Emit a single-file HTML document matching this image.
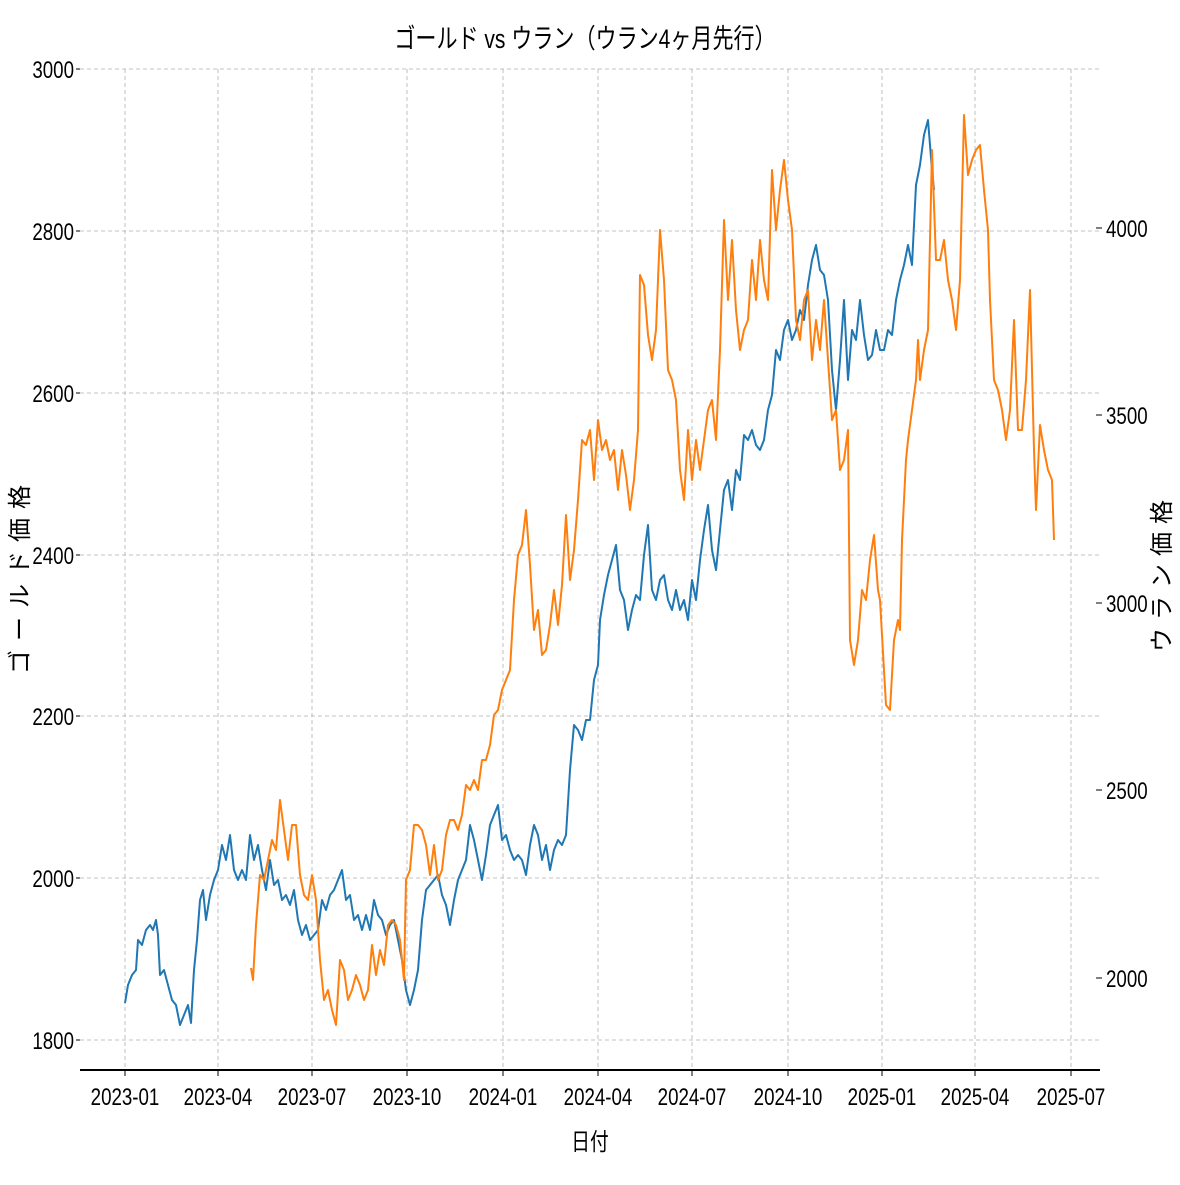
<!DOCTYPE html>
<html><head><meta charset="utf-8"><style>
body{margin:0;background:#fff}
text{font-family:"Liberation Sans","Noto Sans CJK JP",sans-serif;fill:#000}
</style></head><body>
<svg width="1180" height="1180" viewBox="0 0 1180 1180" xmlns="http://www.w3.org/2000/svg">
<rect width="1180" height="1180" fill="#fff"/>
<g stroke="#b0b0b0" stroke-dasharray="4,3" stroke-width="0.8">
<line x1="80" x2="1100" y1="69" y2="69"/><line x1="80" x2="1100" y1="231" y2="231"/><line x1="80" x2="1100" y1="393" y2="393"/><line x1="80" x2="1100" y1="555" y2="555"/><line x1="80" x2="1100" y1="716" y2="716"/><line x1="80" x2="1100" y1="878" y2="878"/><line x1="80" x2="1100" y1="1040" y2="1040"/>
<line y1="69" y2="1070" x1="125" x2="125"/><line y1="69" y2="1070" x1="218" x2="218"/><line y1="69" y2="1070" x1="312" x2="312"/><line y1="69" y2="1070" x1="407" x2="407"/><line y1="69" y2="1070" x1="503" x2="503"/><line y1="69" y2="1070" x1="598" x2="598"/><line y1="69" y2="1070" x1="692" x2="692"/><line y1="69" y2="1070" x1="788" x2="788"/><line y1="69" y2="1070" x1="882" x2="882"/><line y1="69" y2="1070" x1="975" x2="975"/><line y1="69" y2="1070" x1="1071" x2="1071"/>
</g>
<line x1="80" x2="1100" y1="1070" y2="1070" stroke="#000" stroke-width="2"/>
<g stroke="#000" stroke-width="1">
<line x1="76" x2="80" y1="69" y2="69"/><line x1="76" x2="80" y1="231" y2="231"/><line x1="76" x2="80" y1="393" y2="393"/><line x1="76" x2="80" y1="555" y2="555"/><line x1="76" x2="80" y1="716" y2="716"/><line x1="76" x2="80" y1="878" y2="878"/><line x1="76" x2="80" y1="1040" y2="1040"/>
<line x1="1096" x2="1102" y1="228" y2="228"/><line x1="1096" x2="1102" y1="415" y2="415"/><line x1="1096" x2="1102" y1="603" y2="603"/><line x1="1096" x2="1102" y1="790" y2="790"/><line x1="1096" x2="1102" y1="978" y2="978"/>
<line y1="1070" y2="1076" x1="125" x2="125"/><line y1="1070" y2="1076" x1="218" x2="218"/><line y1="1070" y2="1076" x1="312" x2="312"/><line y1="1070" y2="1076" x1="407" x2="407"/><line y1="1070" y2="1076" x1="503" x2="503"/><line y1="1070" y2="1076" x1="598" x2="598"/><line y1="1070" y2="1076" x1="692" x2="692"/><line y1="1070" y2="1076" x1="788" x2="788"/><line y1="1070" y2="1076" x1="882" x2="882"/><line y1="1070" y2="1076" x1="975" x2="975"/><line y1="1070" y2="1076" x1="1071" x2="1071"/>
</g>
<polyline fill="none" stroke="#1f77b4" stroke-width="2" stroke-linejoin="round" points="125,1003 128,985 132,975 136,970 138,940 142,945 146,930 150,925 153,930 156,920 158,935 160,975 164,970 168,985 172,1000 176,1005 180,1025 184,1015 188,1005 191,1023 194,970 197,940 200,900 203,890 206,920 210,895 214,880 218,870 222,845 226,860 230,835 234,870 238,880 242,870 246,880 250,835 254,860 258,845 262,870 266,890 270,860 274,885 278,880 282,900 286,895 290,905 294,890 298,920 302,935 306,925 310,940 314,935 318,930 322,900 326,910 330,895 334,890 338,880 342,870 346,900 350,895 354,920 358,915 362,930 366,915 370,930 374,900 378,915 382,920 386,935 390,925 394,920 398,940 402,960 406,990 410,1005 414,990 418,970 422,920 426,890 430,885 434,880 438,875 442,895 446,905 450,925 454,900 458,880 462,870 466,860 470,825 474,840 478,860 482,880 486,855 490,825 494,815 498,805 502,840 506,835 510,850 514,860 518,855 522,860 526,875 530,845 534,825 538,835 542,860 546,845 550,870 554,850 558,840 562,845 566,835 570,770 574,725 578,730 582,740 586,720 590,720 594,680 598,665 600,620 604,595 608,575 612,560 616,545 620,590 624,600 628,630 632,610 636,595 640,600 644,555 648,525 652,590 656,600 660,580 664,575 668,600 672,610 676,590 680,610 684,600 688,620 692,580 696,600 700,560 704,530 708,505 712,550 716,570 720,530 724,490 728,480 732,510 736,470 740,480 744,435 748,440 752,430 756,445 760,450 764,440 768,410 772,395 776,350 780,360 784,330 788,320 792,340 796,330 800,310 804,320 808,285 812,260 816,245 820,270 824,275 828,300 832,370 836,410 840,360 844,300 848,380 852,330 856,340 860,300 864,335 868,360 872,355 876,330 880,350 884,350 888,330 892,335 896,300 900,280 904,265 908,245 912,265 916,185 920,165 924,135 928,120 932,170 934,190"/>
<polyline fill="none" stroke="#ff7f0e" stroke-width="2" stroke-linejoin="round" points="251,968 253,980 256,925 260,875 264,880 268,860 272,840 276,850 280,800 284,830 288,860 292,825 296,825 300,875 304,895 308,900 312,875 316,900 320,960 324,1000 328,990 332,1010 336,1025 340,960 344,970 348,1000 352,990 356,975 360,985 364,1000 368,990 372,945 376,975 380,950 384,965 388,925 392,920 396,925 400,940 404,980 406,880 410,870 414,825 418,825 422,830 426,845 430,875 434,845 438,880 442,870 446,835 450,820 454,820 458,830 462,815 466,785 470,790 474,780 478,790 482,760 486,760 490,745 494,715 498,710 502,690 506,680 510,670 514,600 518,555 522,545 526,510 530,565 534,630 538,610 542,655 546,650 550,625 554,590 558,625 562,585 566,515 570,580 574,550 578,500 582,440 586,445 590,430 594,480 598,420 602,450 606,440 610,460 614,450 618,490 622,450 626,475 630,510 634,480 638,430 640,275 644,285 648,335 652,360 656,330 660,230 664,280 668,370 672,380 676,400 680,470 684,500 688,430 692,480 696,440 700,470 704,440 708,410 712,400 716,440 720,350 724,220 728,300 732,240 736,310 740,350 744,330 748,320 752,260 756,300 760,240 764,280 768,300 772,170 776,230 780,190 784,160 788,200 792,230 796,320 800,340 804,300 808,290 812,360 816,320 820,350 824,300 828,360 832,420 836,410 840,470 844,460 848,430 850,640 854,665 858,640 862,590 866,600 870,560 874,535 878,590 880,600 884,670 886,705 890,710 894,640 898,620 900,630 902,540 906,460 908,440 912,410 916,380 918,340 920,380 924,350 928,330 932,150 936,260 940,260 944,240 948,280 952,300 956,330 960,280 964,115 968,175 972,160 976,150 980,145 984,190 988,230 990,300 994,380 998,390 1002,410 1006,440 1010,410 1014,320 1018,430 1022,430 1026,380 1030,290 1034,450 1036,510 1040,425 1044,450 1048,470 1052,480 1054,540"/>
<g font-size="24" text-anchor="end">
<text transform="translate(74,78) scale(0.78,1)">3000</text>
<text transform="translate(74,240) scale(0.78,1)">2800</text>
<text transform="translate(74,402) scale(0.78,1)">2600</text>
<text transform="translate(74,564) scale(0.78,1)">2400</text>
<text transform="translate(74,725) scale(0.78,1)">2200</text>
<text transform="translate(74,887) scale(0.78,1)">2000</text>
<text transform="translate(74,1049) scale(0.78,1)">1800</text>
</g>
<g font-size="24">
<text transform="translate(1106,237) scale(0.78,1)">4000</text>
<text transform="translate(1106,424) scale(0.78,1)">3500</text>
<text transform="translate(1106,612) scale(0.78,1)">3000</text>
<text transform="translate(1106,799) scale(0.78,1)">2500</text>
<text transform="translate(1106,987) scale(0.78,1)">2000</text>
</g>
<g font-size="24" text-anchor="middle">
<text transform="translate(125,1105) scale(0.78,1)">2023-01</text>
<text transform="translate(218,1105) scale(0.78,1)">2023-04</text>
<text transform="translate(312,1105) scale(0.78,1)">2023-07</text>
<text transform="translate(407,1105) scale(0.78,1)">2023-10</text>
<text transform="translate(503,1105) scale(0.78,1)">2024-01</text>
<text transform="translate(598,1105) scale(0.78,1)">2024-04</text>
<text transform="translate(692,1105) scale(0.78,1)">2024-07</text>
<text transform="translate(788,1105) scale(0.78,1)">2024-10</text>
<text transform="translate(882,1105) scale(0.78,1)">2025-01</text>
<text transform="translate(975,1105) scale(0.78,1)">2025-04</text>
<text transform="translate(1071,1105) scale(0.78,1)">2025-07</text>
<text transform="translate(590,1150) scale(0.78,1)">日付</text>
<text transform="translate(585,48) scale(0.78,1)" font-size="27">ゴールド vs ウラン（ウラン4ヶ月先行）</text>
<text transform="translate(28,575) rotate(-90)" letter-spacing="9">ゴールド価格</text>
<text transform="translate(1170,572) rotate(-90)" letter-spacing="8">ウラン価格</text>
</g>
</svg>
</body></html>
